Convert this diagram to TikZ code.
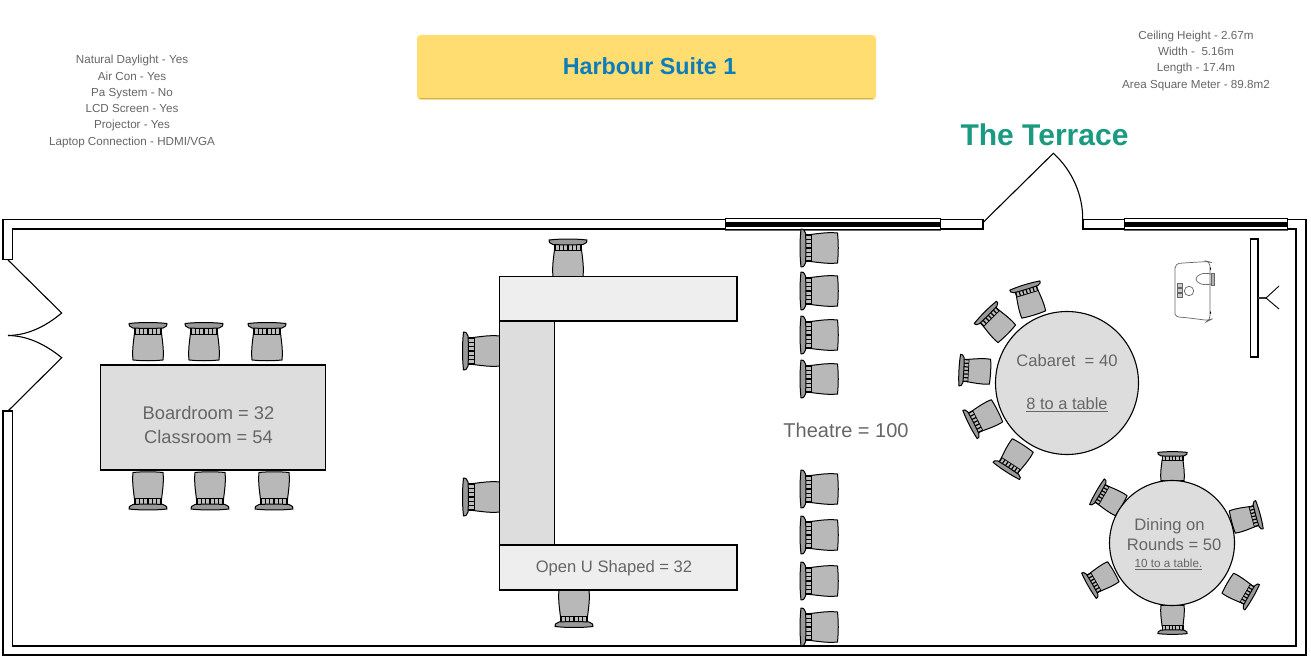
\documentclass[tikz,border=0pt]{standalone}
\usepackage{fontspec}
\setmainfont{Liberation Sans}
\usepackage{tikz}
\definecolor{seatgrey}{HTML}{B8B8B8}
\definecolor{tablegrey}{HTML}{DDDDDD}
\definecolor{paletable}{HTML}{EEEEEE}
\definecolor{labelgrey}{HTML}{666666}
\definecolor{bannerfill}{HTML}{FFDD71}
\definecolor{bannerblue}{HTML}{0B7DBB}
\definecolor{terracegreen}{HTML}{1A9A80}
\tikzset{
	wall/.style={draw=black, fill=white, line width=1.1pt, line join=miter},
	doorline/.style={draw=black, line width=1.1pt},
	bigtable/.style={draw=black, fill=tablegrey, line width=1.1pt},
	paletop/.style={draw=black, fill=paletable, line width=1.1pt},
	infotext/.style={text=labelgrey, align=center, font=\fontsize{11.65}{16.3}\selectfont, inner sep=0pt},
	roomtext/.style={text=labelgrey, align=center, font=\fontsize{18.3}{24}\selectfont, inner sep=0pt},
	tabletext/.style={text=labelgrey, align=center, font=\fontsize{16.6}{20}\selectfont, inner sep=0pt},
}
\def\chair(#1,#2)(#3)(#4){
	\begin{scope}[shift={(#1,#2)}, rotate=#3, scale=#4, line width=1pt, line join=round]
		\draw[fill=seatgrey] (-15,0) .. controls (-16,-10) and (-14.5,-18) .. (-13.5,-27) -- (13.5,-27) .. controls (14.5,-18) and (16,-10) .. (15,0) .. controls (5,1) and (-5,1) .. (-15,0) -- cycle;
		\draw[fill=black!25, line width=0.7pt] (-13.5,-32.5) rectangle (13.5,-26);
		\foreach \tooth in {-13,-8.7,-4.3,0,4.3,8.7,13}
			\draw[line width=1.2pt] (\tooth,-32.5) -- (\tooth,-26);
		\draw[fill=black!40, line width=1pt] (-19,-36.5) .. controls (-8,-37.8) and (8,-37.8) .. (19,-36.5) -- (18.5,-34) -- (15,-32) .. controls (8,-31.5) and (-8,-31.5) .. (-15,-32) -- (-18.5,-34) -- cycle;
	\end{scope}
}
\def\glazing(#1,#2){
	\draw[draw=black!60, fill=white, line width=0.8pt] (#1,218.3) rectangle (#2,230);
	\fill[black] (#1,222.2) rectangle (#2,226.8);
	\draw[black, line width=1pt] (#1,218.3) -- (#1,230);
	\draw[black, line width=1pt] (#2,218.3) -- (#2,230);
	\draw[black, line width=0.8pt] (#1,229.7) -- (#2,229.7);
	\draw[black, line width=0.8pt] (#1,218.8) -- (#2,218.8);
}

\begin{document}
\begin{tikzpicture}[x=1pt, y=-1pt]
	%%%%% START %%%%%
	\useasboundingbox (0,0) rectangle (1311,666);
	\fill[white] (0,0) rectangle (1311,666);

	% banner
	\fill[bannerfill, rounded corners=4pt] (417,35) rectangle (876,100);
	\draw[black!30!bannerfill!80!white, line width=0.8pt] (420,98) -- (873,98);
	\node[text=bannerblue, font=\fontsize{23.3}{28}\selectfont\bfseries] (title) at (649.5,66) {Harbour Suite 1};

	% room facts
	\node[infotext] (facilities) at (132,101.5) {Natural Daylight - Yes\\Air Con - Yes\\Pa System - No\\LCD Screen - Yes\\Projector - Yes\\Laptop Connection - HDMI/VGA};
	\node[infotext] (sizes) at (1196,60.8) {Ceiling Height - 2.67m\\Width -\ \ 5.16m\\Length -\ 17.4m\\Area Square Meter - 89.8m2};
	\node[text=terracegreen, font=\fontsize{30}{34}\selectfont\bfseries] (terrace) at (1044.5,135) {The Terrace};

	% walls
	\draw[wall] (983,219.5) -- (3,219.5) -- (3,259.5) -- (12.5,259.5) -- (12.5,229) -- (983,229) -- cycle;
	\draw[wall] (12.5,411) -- (3,411) -- (3,655) -- (1306,655) -- (1306,219.5) -- (1083,219.5) -- (1083,229) -- (1296,229) -- (1296,646) -- (12.5,646) -- cycle;

	\glazing(725,940)
	\glazing(1124,1287)

	% doors
	\draw[doorline] (8,260) -- (61.7,313) .. controls (45,327) and (27,335.3) .. (8,335.5);
	\draw[doorline] (8,411) -- (61.7,357.7) .. controls (45,344) and (27,335.7) .. (8,335.5);
	\draw[doorline] (983.5,222) -- (1053.3,153.3) .. controls (1072,170) and (1083,195) .. (1082.7,219.5);

	% boardroom
	\chair(148,360)(0)(1)
	\chair(204,360)(0)(1)
	\chair(267,360)(0)(1)
	\chair(148,472.5)(180)(1)
	\chair(210,472.5)(180)(1)
	\chair(274,472.5)(180)(1)
	\draw[bigtable] (100.5,365) rectangle (325.5,470);
	\node[roomtext] (boardroom) at (208.5,425) {Boardroom = 32\\Classroom = 54};

	% open u
	\chair(568,276.5)(0)(1)
	\chair(574,590)(180)(1)
	\chair(500,351)(90)(1)
	\chair(500,497)(90)(1)
	\draw[paletop] (499.5,276.5) rectangle (737,321);
	\draw[bigtable] (499.5,321) rectangle (554.5,545);
	\draw[paletop] (499.5,545) rectangle (737,590);
	\node[tabletext] (openu) at (614,567.8) {Open U Shaped = 32};

	% theatre
	\chair(837.5,248)(90)(1)
	\chair(837.5,291)(90)(1)
	\chair(837.5,335)(90)(1)
	\chair(837.5,379)(90)(1)
	\chair(837.5,489)(90)(1)
	\chair(837.5,535)(90)(1)
	\chair(837.5,581)(90)(1)
	\chair(837.5,627)(90)(1)
	\node[text=labelgrey, font=\fontsize{20}{24}\selectfont, inner sep=0pt] (theatre) at (846,430) {Theatre = 100};

	% cabaret
	\chair(1033.7,314.5)(17)(0.83)
	\chair(1006.8,333.8)(45)(0.83)
	\chair(990,371.7)(87)(0.83)
	\chair(997,410.8)(117)(0.83)
	\chair(1022.8,445.5)(147)(0.83)
	\draw[bigtable] (1067,383) circle (71.5);
	\node[tabletext] (cabaret) at (1067,360.5) {Cabaret\ \ = 40};
	\node[tabletext, font=\fontsize{16.4}{20}\selectfont] (cabaretseats) at (1067,405) {\underline{8 to a table}};

	% dining
	\chair(1172.5,480.5)(0)(0.77)
	\chair(1172.5,605.5)(180)(0.77)
	\chair(1121.3,505.7)(60)(0.77)
	\chair(1232.3,522)(-75)(0.77)
	\chair(1113.3,571.7)(120)(0.77)
	\chair(1227.8,583.2)(-120)(0.77)
	\draw[bigtable] (1172,543) circle (62.5);
	\node[tabletext] (dining) at (1169.5,534.5) {Dining on\\\ \ Rounds = 50};
	\node[tabletext, font=\fontsize{11.7}{14}\selectfont] (diningseats) at (1168.5,564.5) {\underline{10 to a table.}};

	% projector
	\draw[black!60, line width=0.7pt, rounded corners=4pt] (1175,272) -- (1175,310) .. controls (1175,316) and (1178,317) .. (1183,317.3) -- (1209,320.5) -- (1210,320) -- (1210,262) -- (1208,261.5) -- (1183,263) .. controls (1178,263.5) and (1175,265) .. (1175,272) -- cycle;
	\draw[black!60, line width=0.7pt] (1211,274) .. controls (1203,272) and (1196,275) .. (1196,279) .. controls (1196,283) and (1203,286) .. (1211,284);
	\draw[black!60, fill=black!30, line width=0.7pt] (1211,273) rectangle (1214,285);
	\draw[black!60, line width=0.7pt] (1189,291) circle (4.7);
	\draw[black!60, fill=black!20, line width=0.5pt] (1177.5,283.5) rectangle (1182,287.5);
	\draw[black!60, fill=black!20, line width=0.5pt] (1177.5,288.5) rectangle (1182,292.5);
	\draw[black!60, fill=black!20, line width=0.5pt] (1177.5,293.5) rectangle (1182,297.5);
	\fill[black] (1210,267) -- (1211.3,269) -- (1210,270) -- cycle;
	\fill[black] (1210,311) -- (1211.3,313) -- (1210,314) -- cycle;

	% screen
	\draw[black, fill=white, line width=1.1pt] (1250.5,239) rectangle (1258,357);
	\draw[black!80, line width=1.2pt] (1258,298) -- (1266,298);
	\draw[black, line width=0.9pt] (1279,286) -- (1266,298) -- (1279,309);

	%%%%% END %%%%%
\end{tikzpicture}
\end{document}
